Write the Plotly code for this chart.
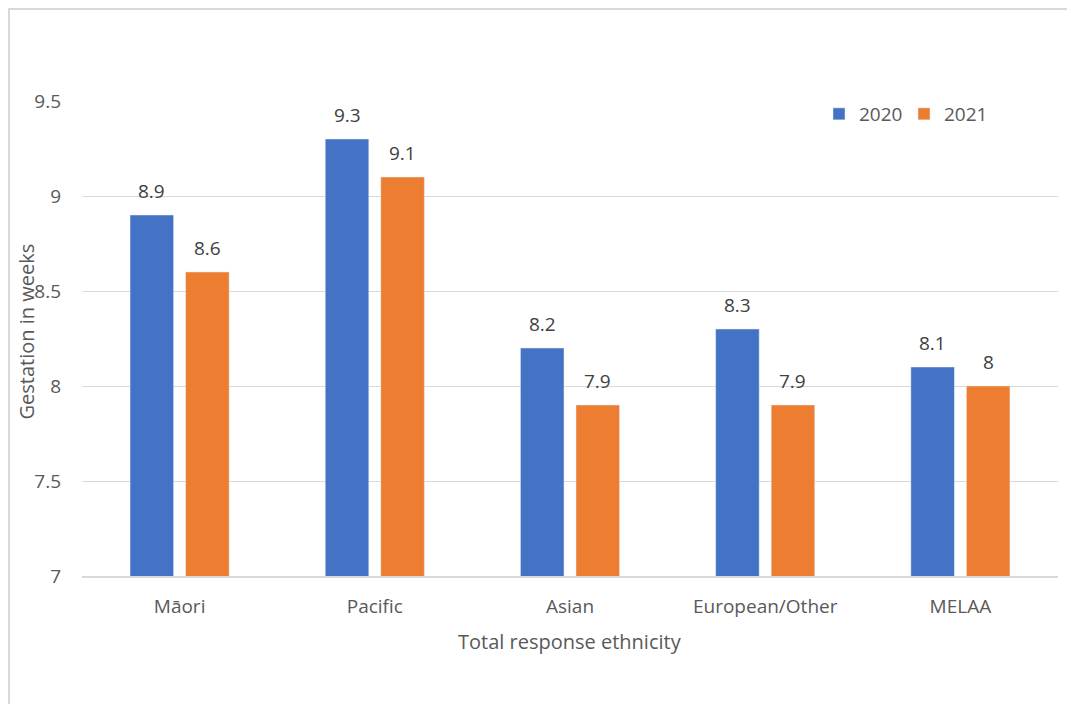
import plotly.graph_objects as go

categories = ["Māori", "Pacific", "Asian", "European/Other", "MELAA"]
values_2020 = [8.9, 9.3, 8.2, 8.3, 8.1]
values_2021 = [8.6, 9.1, 7.9, 7.9, 8.0]
labels_2020 = ["8.9", "9.3", "8.2", "8.3", "8.1"]
labels_2021 = ["8.6", "9.1", "7.9", "7.9", "8"]
y_ticks = [7, 7.5, 8, 8.5, 9, 9.5]
y_ticklabels = ["7", "7.5", "8", "8.5", "9", "9.5"]

FONT = "Open Sans"
TXT = "#595959"
LBL = "#404040"
BLUE = "#4472C4"
ORANGE = "#ED7D31"

W, H = 1067, 696
ML, MR, MT, MB = 74, 17, 93, 128
PW = W - ML - MR
PH = H - MT - MB
BARGAP = 0.431
GROUPGAP = 0.216
slot = PW / len(categories) * (1 - BARGAP) / 2

fig = go.Figure()
fig.add_trace(go.Bar(x=categories, y=values_2020, name="2020", marker_color=BLUE))
fig.add_trace(go.Bar(x=categories, y=values_2021, name="2021", marker_color=ORANGE))

annotations = []
for vals, labs, shift in ((values_2020, labels_2020, -slot / 2), (values_2021, labels_2021, slot / 2)):
    for c, v, t in zip(categories, vals, labs):
        annotations.append(dict(
            x=c, y=v, xref="x", yref="y", text=t, showarrow=False,
            xshift=shift, yshift=24, yanchor="middle", xanchor="center",
            font=dict(family=FONT, size=19, color=LBL),
        ))

annotations.append(dict(
    text="Gestation in weeks", xref="paper", yref="paper",
    x=(18 - ML) / PW, y=1 - (323.5 - MT) / PH, textangle=-90, showarrow=False,
    xanchor="center", yanchor="middle", font=dict(family=FONT, size=20, color=TXT),
))
annotations.append(dict(
    text="Total response ethnicity", xref="paper", yref="paper",
    x=0.5, y=1 - (633 - MT) / PH, showarrow=False,
    xanchor="center", yanchor="middle", font=dict(family=FONT, size=20, color=TXT),
))

fig.update_layout(
    width=W, height=H,
    margin=dict(l=ML, r=MR, t=MT, b=MB, autoexpand=False),
    paper_bgcolor="white", plot_bgcolor="white",
    barmode="group", bargap=BARGAP, bargroupgap=GROUPGAP,
    font=dict(family=FONT, color=TXT, size=19),
    showlegend=True,
    legend=dict(orientation="h", x=(811 - ML) / PW, y=1 - (87 - MT) / PH,
                xanchor="left", yanchor="top",
                font=dict(family=FONT, size=19, color=TXT), bgcolor="rgba(0,0,0,0)",
                itemwidth=30, traceorder="normal", entrywidth=40),
    xaxis=dict(
        showgrid=False, showline=True, linecolor="#d9d9d9", linewidth=1.5,
        ticks="", tickfont=dict(family=FONT, size=19, color=TXT),
        ticklabelstandoff=12,
    ),
    yaxis=dict(
        range=[7, 9.5], tickvals=y_ticks, ticktext=y_ticklabels,
        showgrid=True, gridcolor="#d9d9d9", gridwidth=1, zeroline=False,
        showline=False, ticks="", tickfont=dict(family=FONT, size=19, color=TXT),
        ticklabelstandoff=20,
    ),
    annotations=annotations,
    shapes=[dict(type="rect", xref="paper", yref="paper",
                 x0=(1 - ML) / PW, x1=1.2, y0=-0.6, y1=1 + (MT - 1) / PH,
                 line=dict(color="#d9d9d9", width=2), layer="below")],
)

fig.write_html("out.html")
